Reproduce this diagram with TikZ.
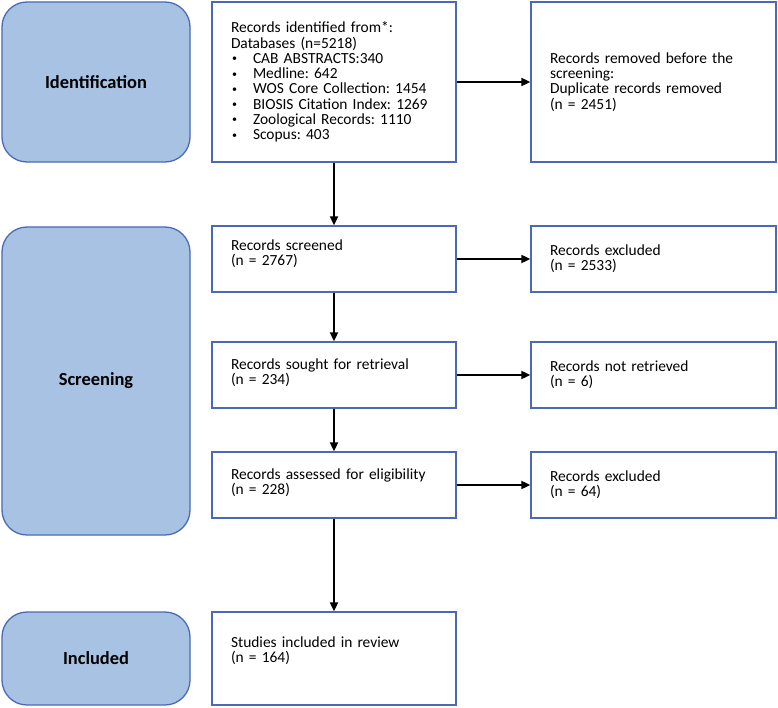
\documentclass[tikz,border=0pt]{standalone}
\usepackage{fontspec}
\setmainfont{Carlito}
\usetikzlibrary{arrows.meta}
\definecolor{phasefill}{HTML}{A8C2E4}
\definecolor{edgeblue}{HTML}{4A6AB6}
\tikzset{
  phase/.style={draw=edgeblue, line width=1.3bp, fill=phasefill, rounded corners=25bp,
    inner sep=0pt, font=\fontsize{18.5}{21}\selectfont\bfseries, text=black},
  infobox/.style={draw=edgeblue, line width=1.3bp, fill=white, inner xsep=19bp, inner ysep=0pt,
    align=left, font=\fontsize{15.5}{15.3}\selectfont\frenchspacing, text=black},
  flow/.style={draw=black, line width=1.8bp, -{Triangle[length=9bp,width=8bp]}},
}
\newcommand{\bul}[1]{\hspace*{1bp}\makebox[21bp][l]{\raisebox{1.5bp}{\fontsize{10}{10}\selectfont\textbullet}}#1}
\begin{document}
\begin{tikzpicture}[x=1bp,y=-1bp]
\useasboundingbox (0,0) rectangle (778,708);
% phases
\node[phase, minimum width=188bp, minimum height=160bp] (pid) at (96,82) {Identification};
\node[phase, minimum width=188bp, minimum height=308bp] (pscr) at (96,381) {Screening};
\node[phase, minimum width=188bp, minimum height=93bp] (pinc) at (96,658.5) {Included};
% boxes
\node[infobox, text width=206bp, minimum height=160bp] (rec) at (334,82)
 {Records identified from*:\\
  Databases (n=5218)\\
  \bul{CAB ABSTRACTS:340}\\
  \bul{Medline: 642}\\
  \bul{WOS Core Collection: 1454}\\
  \bul{BIOSIS Citation Index: 1269}\\
  \bul{Zoological Records: 1110}\\
  \bul{Scopus: 403}};
\node[infobox, text width=207bp, minimum height=160bp] (rem) at (653.5,82)
 {Records removed before the\\ screening:\\ Duplicate records removed\\ (n = 2451)};
\node[infobox, text width=206bp, minimum height=66bp] (scr) at (334,259)
 {Records screened\\ (n = 2767)\\[-2bp]\mbox{}};
\node[infobox, text width=207bp, minimum height=66bp] (ex1) at (653.5,259)
 {Records excluded\\ (n = 2533)};
\node[infobox, text width=206bp, minimum height=66bp] (sou) at (334,375)
 {Records sought for retrieval\\ (n = 234)\\[-8bp]\mbox{}};
\node[infobox, text width=207bp, minimum height=66bp] (nre) at (653.5,375)
 {Records not retrieved\\ (n = 6)};
\node[infobox, text width=206bp, minimum height=66bp] (ass) at (334,485)
 {Records assessed for eligibility\\ (n = 228)\\[-8bp]\mbox{}};
\node[infobox, text width=207bp, minimum height=66bp] (ex2) at (653.5,485)
 {Records excluded\\ (n = 64)};
\node[infobox, text width=206bp, minimum height=93bp] (stu) at (334,658.5)
 {Studies included in review\\ (n = 164)\\[3bp]\mbox{}};
% arrows
\draw[flow] (rec.south) -- (scr.north);
\draw[flow] (scr.south) -- (sou.north);
\draw[flow] (sou.south) -- (ass.north);
\draw[flow] (ass.south) -- (stu.north);
\draw[flow] (rec.east) -- (rem.west);
\draw[flow] (scr.east) -- (ex1.west);
\draw[flow] (sou.east) -- (nre.west);
\draw[flow] (ass.east) -- (ex2.west);
\end{tikzpicture}
\end{document}
